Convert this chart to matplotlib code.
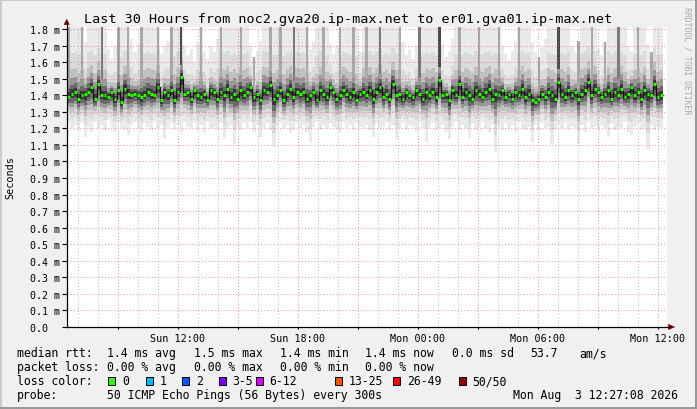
import numpy as np
import matplotlib
matplotlib.use("Agg")
import matplotlib.pyplot as plt
from matplotlib.patches import Rectangle, Polygon
from matplotlib.lines import Line2D

W, H = 697, 410
MONO = "DejaVu Sans Mono"

# ---------------- data ----------------
title = "Last 30 Hours from noc2.gva20.ip-max.net to er01.gva01.ip-max.net"
y_label = "Seconds"
y_ticks = [0.0, 0.1, 0.2, 0.3, 0.4, 0.5, 0.6, 0.7, 0.8, 0.9,
           1.0, 1.1, 1.2, 1.3, 1.4, 1.5, 1.6, 1.7, 1.8]
y_tick_labels = ["0.0  ", "0.1 m", "0.2 m", "0.3 m", "0.4 m", "0.5 m", "0.6 m",
                 "0.7 m", "0.8 m", "0.9 m", "1.0 m", "1.1 m", "1.2 m", "1.3 m",
                 "1.4 m", "1.5 m", "1.6 m", "1.7 m", "1.8 m"]
x_tick_hours = [12, 18, 24, 30, 36]          # hours since Sun 00:00
x_tick_labels = ["Sun 12:00", "Sun 18:00", "Mon 00:00", "Mon 06:00", "Mon 12:00"]
window_start_h = 6 + 27 / 60 + 8 / 3600      # Sun 06:27:08
window_len_h = 30.0
data_len_h = 29.8

# median rtt per sample (ms)
median_ms = [
    1.39, 1.41, 1.42, 1.38, 1.40, 1.41, 1.42, 1.45, 1.38, 1.47,
    1.40, 1.40, 1.39, 1.42, 1.38, 1.43, 1.36, 1.44, 1.41, 1.40,
    1.41, 1.40, 1.39, 1.40, 1.42, 1.41, 1.40, 1.45, 1.37, 1.42,
    1.40, 1.43, 1.37, 1.42, 1.51, 1.41, 1.42, 1.38, 1.43, 1.40,
    1.39, 1.41, 1.37, 1.43, 1.42, 1.38, 1.42, 1.40, 1.44, 1.39,
    1.41, 1.38, 1.43, 1.40, 1.42, 1.45, 1.39, 1.41, 1.37, 1.43,
    1.42, 1.46, 1.38, 1.40, 1.43, 1.37, 1.41, 1.44, 1.39, 1.42,
    1.41, 1.42, 1.38, 1.40, 1.42, 1.37, 1.43, 1.41, 1.39, 1.45,
    1.42, 1.38, 1.40, 1.43, 1.41, 1.39, 1.42, 1.37, 1.41, 1.42,
    1.40, 1.43, 1.38, 1.42, 1.45, 1.39, 1.41, 1.38, 1.47, 1.40,
    1.41, 1.38, 1.42, 1.40, 1.39, 1.43, 1.41, 1.38, 1.42, 1.40,
    1.42, 1.39, 1.49, 1.40, 1.41, 1.37, 1.43, 1.40, 1.47, 1.39,
    1.42, 1.40, 1.38, 1.43, 1.41, 1.39, 1.42, 1.44, 1.38, 1.41,
    1.40, 1.43, 1.39, 1.41, 1.38, 1.42, 1.40, 1.44, 1.39, 1.41,
    1.37, 1.36, 1.38, 1.41, 1.39, 1.42, 1.40, 1.38, 1.48, 1.41,
    1.39, 1.43, 1.40, 1.42, 1.38, 1.41, 1.43, 1.48, 1.40, 1.44,
    1.42, 1.39, 1.41, 1.43, 1.38, 1.42, 1.40, 1.44, 1.39, 1.41,
    1.45, 1.40, 1.42, 1.38, 1.43, 1.41, 1.40, 1.47, 1.39, 1.40,
]

# slowest ping per sample (ms); values above 1.8 run off the top of the graph
top_ms = [
    1.9, 1.9, 1.9, 1.9, 1.9, 1.72, 1.9, 1.9, 1.9, 1.9,
    1.9, 1.9, 1.68, 1.62, 1.70, 1.9, 1.9, 1.9, 1.9, 1.74,
    1.66, 1.71, 1.9, 1.9, 1.9, 1.9, 1.9, 1.9, 1.65, 1.70,
    1.73, 1.9, 1.9, 1.9, 1.9, 1.70, 1.64, 1.68, 1.60, 1.72,
    1.9, 1.67, 1.62, 1.70, 1.66, 1.74, 1.9, 1.9, 1.9, 1.9,
    1.9, 1.9, 1.9, 1.9, 1.9, 1.70, 1.63, 1.67, 1.73, 1.9,
    1.9, 1.9, 1.9, 1.9, 1.9, 1.9, 1.9, 1.9, 1.9, 1.9,
    1.9, 1.9, 1.9, 1.68, 1.72, 1.9, 1.9, 1.9, 1.9, 1.71,
    1.65, 1.70, 1.9, 1.9, 1.9, 1.9, 1.9, 1.9, 1.66, 1.9,
    1.9, 1.9, 1.9, 1.9, 1.9, 1.9, 1.9, 1.9, 1.9, 1.9,
    1.9, 1.72, 1.64, 1.68, 1.62, 1.70, 1.9, 1.9, 1.9, 1.9,
    1.9, 1.9, 1.9, 1.71, 1.63, 1.66, 1.74, 1.9, 1.9, 1.9,
    1.9, 1.9, 1.9, 1.9, 1.9, 1.9, 1.9, 1.9, 1.9, 1.9,
    1.9, 1.70, 1.65, 1.61, 1.67, 1.73, 1.9, 1.9, 1.9, 1.9,
    1.72, 1.66, 1.63, 1.69, 1.74, 1.9, 1.9, 1.9, 1.9, 1.9,
    1.9, 1.9, 1.70, 1.66, 1.73, 1.9, 1.9, 1.9, 1.9, 1.9,
    1.68, 1.64, 1.72, 1.9, 1.9, 1.9, 1.9, 1.9, 1.9, 1.70,
    1.67, 1.9, 1.9, 1.9, 1.9, 1.71, 1.66, 1.9, 1.9, 1.9,
]

# fastest ping per sample (ms)
bottom_ms = [
    1.24, 1.20, 1.22, 1.19, 1.23, 1.15, 1.21, 1.18, 1.24, 1.20,
    1.22, 1.19, 1.25, 1.21, 1.18, 1.23, 1.20, 1.19, 1.16, 1.22,
    1.24, 1.20, 1.18, 1.23, 1.21, 1.19, 1.24, 1.20, 1.22, 1.135,
    1.20, 1.23, 1.19, 1.22, 1.18, 1.24, 1.21, 1.20, 1.23, 1.19,
    1.22, 1.18, 1.24, 1.20, 1.21, 1.19, 1.23, 1.135, 1.20, 1.22,
    1.105, 1.21, 1.19, 1.23, 1.20, 1.24, 1.18, 1.22, 1.15, 1.20,
    1.23, 1.19, 1.09, 1.21, 1.24, 1.20, 1.22, 1.17, 1.19, 1.23,
    1.20, 1.22, 1.18, 1.12, 1.21, 1.24, 1.19, 1.22, 1.20, 1.23,
    1.21, 1.19, 1.18, 1.24, 1.20, 1.22, 1.19, 1.23, 1.21, 1.20,
    1.22, 1.19, 1.15, 1.23, 1.20, 1.21, 1.24, 1.19, 1.22, 1.135,
    1.20, 1.23, 1.19, 1.22, 1.21, 1.18, 1.24, 1.20, 1.12, 1.21,
    1.23, 1.19, 1.20, 1.22, 1.18, 1.135, 1.21, 1.24, 1.19, 1.22,
    1.20, 1.14, 1.23, 1.19, 1.21, 1.24, 1.20, 1.18, 1.22, 1.06,
    1.21, 1.19, 1.23, 1.20, 1.22, 1.18, 1.24, 1.20, 1.19, 1.21,
    1.12, 1.22, 1.19, 1.23, 1.20, 1.21, 1.105, 1.19, 1.22, 1.20,
    1.23, 1.19, 1.21, 1.20, 1.105, 1.22, 1.18, 1.24, 1.20, 1.21,
    1.19, 1.22, 1.20, 1.145, 1.23, 1.19, 1.21, 1.20, 1.24, 1.18,
    1.16, 1.21, 1.23, 1.19, 1.20, 1.075, 1.22, 1.19, 1.21, 1.20,
]

# samples where many pings were slow (dark smoke streak up to the top)
streak_idx = [0, 4, 10, 15, 18, 22, 27, 31, 34, 40, 46, 52, 56, 61, 64, 68,
              72, 77, 82, 86, 90, 94, 100, 106, 112, 118, 124, 130, 136, 142,
              148, 154, 158, 162, 166, 172, 176]
streak_level = [1, 1, 2, 1, 1, 1, 1, 1, 3, 1, 1, 1, 1, 1, 1, 2,
                1, 1, 1, 1, 1, 2, 1, 2, 3, 1, 1, 1, 1, 1,
                3, 1, 1, 1, 2, 1, 1]

legend_rows = [
    [("median rtt:", 16.7), ("1.4 ms avg", 107), ("1.5 ms max", 194.3),
     ("1.4 ms min", 280), ("1.4 ms now", 365), ("0.0 ms sd", 451.7),
     ("53.7", 530.3), ("am/s", 579.3)],
    [("packet loss:", 16.7), ("0.00 % avg", 107), ("0.00 % max", 194.3),
     ("0.00 % min", 280), ("0.00 % now", 365)],
    [("loss color:", 16.7)],
    [("probe:", 16.7), ("50 ICMP Echo Pings (56 Bytes) every 300s", 107),
     ("Mon Aug  3 12:27:08 2026", 513.3)],
]
loss_labels = ["0", "1", "2", "3-5", "6-12", "13-25", "26-49", "50/50"]
loss_colors = ["#26ff00", "#00b8ff", "#0059ff", "#7e00ff", "#dd00ff",
               "#ff5500", "#ff0000", "#a10000"]
loss_box_x = [108.3, 145.7, 182.3, 219.0, 255.7, 335.0, 393.3, 459.0]

watermark = "RRDTOOL / TOBI OETIKER"

# ---------------- styling helpers ----------------
def fx(px):
    return px / W

def fy(py):
    return 1 - py / H

fig = plt.figure(figsize=(W / 100, H / 100), dpi=100, facecolor="#F0F0F0")

# 3D-ish frame
fig.add_artist(Rectangle((0, fy(2)), 1, 2 / H, transform=fig.transFigure,
                         facecolor="#CBCBCB", edgecolor="none"))
fig.add_artist(Rectangle((0, 0), 2 / W, 1, transform=fig.transFigure,
                         facecolor="#CBCBCB", edgecolor="none"))
fig.add_artist(Rectangle((0, 0), 1, 2 / H, transform=fig.transFigure,
                         facecolor="#999999", edgecolor="none"))
fig.add_artist(Rectangle((1 - 2 / W, 0), 2 / W, 1, transform=fig.transFigure,
                         facecolor="#999999", edgecolor="none"))

ax = fig.add_axes([fx(67), fy(328), 600 / W, 300 / H])
ax.set_facecolor("white")
x0 = window_start_h
ax.set_xlim(x0, x0 + window_len_h)
ax.set_ylim(0, 1.812)

med = np.array(median_ms)
top = np.array(top_ms)
bot = np.array(bottom_ms)
n = len(med)
step = data_len_h / n
edges = x0 + np.arange(n + 1) * step
centers = (edges[:-1] + edges[1:]) / 2
xs = np.repeat(edges, 2)[1:-1]

def rep(a):
    return np.repeat(a, 2)

# smoke layers (outer -> inner): each layer spans a share of the ping spread
up_frac = [1.0, 0.50, 0.30, 0.19, 0.11, 0.055]
dn_frac = [1.0, 0.72, 0.52, 0.38, 0.26, 0.14]
shades = ["#eaeaea", "#dadada", "#c0c0c0", "#999999", "#6a6a6a", "#383838"]

up_span = np.minimum(top, 1.9) - med
dn_span = med - bot

streak_cols = {1: "#a9a9a9", 2: "#7a7a7a", 3: "#484848"}
for k in range(len(shades)):
    hi = med + up_frac[k] * up_span
    lo = med - dn_frac[k] * dn_span
    ax.fill_between(xs, rep(lo), rep(hi), color=shades[k], lw=0, zorder=1 + k * 0.1)
    if k == 2:
        for i, lev in zip(streak_idx, streak_level):
            ax.bar(centers[i], top[i] - med[i], bottom=med[i], width=step * 0.75,
                   color=streak_cols[lev], lw=0, zorder=1.25)

# grid on top of the smoke
minor_h = np.arange(7, 37, 1)
major_h = np.arange(9, 37, 3)
ax.vlines([h for h in minor_h if h % 3 != 0], 0, 1.812, colors="#8F8F8F",
          alpha=0.55, lw=0.75, linestyles=(0, (1, 2)), zorder=3)
ax.vlines(major_h, 0, 1.812, colors="#E93B3B", alpha=0.55, lw=0.75,
          linestyles=(0, (1, 2)), zorder=3)
ax.hlines(y_ticks[1:], x0, x0 + window_len_h, colors="#E93B3B", alpha=0.5,
          lw=0.75, linestyles=(0, (1, 2)), zorder=3)

# median
ax.plot(xs, rep(med), color="#111111", lw=0.8, zorder=4)
ax.hlines(med, centers - step * 0.42, centers + step * 0.42,
          colors=loss_colors[0], lw=2.2, zorder=5)

# axes / ticks
for s in ["top", "right"]:
    ax.spines[s].set_visible(False)
for s in ["left", "bottom"]:
    ax.spines[s].set_color("black")
    ax.spines[s].set_linewidth(0.8)
    ax.spines[s].set_zorder(6)

ax.set_yticks(y_ticks)
ax.set_yticklabels(y_tick_labels, fontfamily=MONO, fontsize=7.2)
ax.tick_params(axis="y", length=3.5, width=0.8, pad=1.5, direction="out")
ax.set_xticks(x_tick_hours)
ax.set_xticklabels(x_tick_labels, fontfamily=MONO, fontsize=7.3)
ax.set_xticks(major_h, minor=True)
ax.tick_params(axis="x", which="both", length=1.5, width=0.8, pad=2.5, direction="out")

# axis extensions with arrows
fig.add_artist(Line2D([fx(67), fx(67)], [fy(328), fy(23)], color="black", lw=0.8))
fig.add_artist(Polygon([[fx(66.7), fy(20.5)], [fx(64.2), fy(25.5)], [fx(69.2), fy(25.5)]],
                       closed=True, transform=fig.transFigure, facecolor="#7F0000",
                       edgecolor="#7F0000", lw=0.5))
fig.add_artist(Line2D([fx(67), fx(670)], [fy(328), fy(328)], color="black", lw=0.8))
fig.add_artist(Polygon([[fx(674.5), fy(328)], [fx(668.5), fy(325.5)], [fx(668.5), fy(330.5)]],
                       closed=True, transform=fig.transFigure, facecolor="#7F0000",
                       edgecolor="#7F0000", lw=0.5))

# texts
fig.text(fx(348), fy(23.5), title, ha="center", va="baseline",
         fontfamily=MONO, fontsize=9.7, color="black")
fig.text(fx(10), fy(178), y_label, rotation=90, ha="center", va="center",
         fontfamily=MONO, fontsize=7.3, color="black")
fig.text(fx(687.5), fy(61), watermark, rotation=270, ha="center", va="center",
         fontfamily=MONO, fontsize=5.9, color="#aaaaaa")

baselines = [357.5, 371.5, 385.5, 399.5]
for row, yb in zip(legend_rows, baselines):
    for txt, xp in row:
        fig.text(fx(xp), fy(yb), txt, ha="left", va="baseline",
                 fontfamily=MONO, fontsize=8.3, color="black")

for lab, col, bx in zip(loss_labels, loss_colors, loss_box_x):
    fig.add_artist(Rectangle((fx(bx), fy(385.5)), 7 / W, 8 / H,
                             transform=fig.transFigure, facecolor=col,
                             edgecolor="black", lw=0.7))
    fig.text(fx(bx + 13.5), fy(baselines[2]), lab, ha="left", va="baseline",
             fontfamily=MONO, fontsize=8.3, color="black")

fig.savefig("out.png", dpi=100, facecolor=fig.get_facecolor())
